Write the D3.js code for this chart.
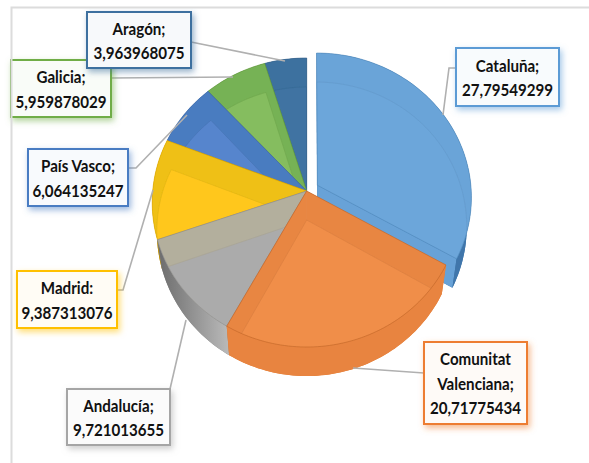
<!DOCTYPE html>
<html><head><meta charset="utf-8">
<script src="https://cdn.jsdelivr.net/npm/d3@7/dist/d3.min.js"></script>
<style>html,body{margin:0;padding:0;background:#fff}svg{display:block}</style>
</head><body><svg id="c" width="589" height="463"></svg>
<script>
const regions = ["Cataluña","Comunitat Valenciana","Andalucía","Madrid","País Vasco","Galicia","Aragón"];
const values = [27.79549299,20.71775434,9.721013655,9.387313076,6.064135247,5.959878029,3.963968075];
const valueLabels = ["27,79549299","20,71775434","9,721013655","9,387313076","6,064135247","5,959878029","3,963968075"];
const labelLines = [["Cataluña;"],["Comunitat","Valenciana;"],["Andalucía;"],["Madrid:"],["País Vasco;"],["Galicia;"],["Aragón;"]];
const edgeColors = ["#5b9bd5","#ed7d31","#a5a5a5","#ffc000","#4a7cc2","#70ad47","#3d6f9f"];
const bandColors = ["#6aa4d8","#e88744","#b3af9d","#efc013","#4a7cc0","#76b254","#3c719f"];
const innerColors = ["#6ca6da","#f08e48","#ababab","#ffc71f","#5785cd","#85bd5f","#3f73a2"];
const wallColors = ["#3f76ab","#e37f3a","#8a8a8a","#b98f10","#3a63a0","#5f983c","#30597f"];
const explode = [0.08,0,0,0,0,0,0];
const drawOrder = [6,5,4,3,2,0,1];

// layout (boxes and leader lines)
const boxes = [[456,48,103,58],[424,342,103,82],[67,389,103,56],[17,271,100,57],[28,149,100,57],[11,60,100,57],[87,12,104,56]];
const leaders = [
 [[456,68],[449,68],[443,115]],
 [[424,373],[353,368]],
 [[170,389],[186,320]],
 [[117,290],[123,290],[153,190]],
 [[128,168],[136,168],[187,115]],
 [[111,78],[233,77]],
 [[191,42],[285,61]]];
const boxOrder = [5,6,4,3,2,0,1];

const cx=306.7, cy=191, R=154, S=143.6, K=0.0796, DEPTH=29, BOTTOM_SCALE=0.97;
const svg=d3.select("#c");
const defs=svg.append("defs");

const project=(a,r,e,mid)=>{
  const x=r*Math.sin(a)+e*Math.sin(mid), y=r*Math.cos(a)+e*Math.cos(mid), d=1+K*y;
  return [cx+R*x/d, cy-S*y/d];
};
const pie=d3.pie().sort(null).startAngle(0).endAngle(2*Math.PI)(values);
const line=d3.line();

function rim(s,i){
  const n=Math.max(6,Math.ceil((s.endAngle-s.startAngle)*40));
  const mid=(s.startAngle+s.endAngle)/2;
  return d3.range(n+1).map(k=>project(s.startAngle+(s.endAngle-s.startAngle)*k/n,1,explode[i],mid));
}
function apex(s,i){return project(0,0,explode[i],(s.startAngle+s.endAngle)/2);}

const grad=defs.append("linearGradient").attr("id","gw").attr("gradientUnits","userSpaceOnUse")
  .attr("x1",158).attr("x2",232).attr("y1",0).attr("y2",0);
grad.append("stop").attr("offset",0).attr("stop-color","#6c6c6c");
grad.append("stop").attr("offset",1).attr("stop-color","#bdbdbd");

const sh=defs.append("filter").attr("id","soft").attr("x","-5%").attr("y","-5%").attr("width","110%").attr("height","110%");
sh.append("feGaussianBlur").attr("stdDeviation",0.35);

const pieG=svg.append("g").attr("filter","url(#soft)");

drawOrder.forEach(i=>{
  const s=pie[i], pts=rim(s,i), a=apex(s,i);
  const down=p=>[a[0]+(p[0]-a[0])*BOTTOM_SCALE, p[1]+DEPTH];
  const top=[a,...pts];
  const bottom=top.map(down);
  const g=pieG.append("g");
  g.append("path").attr("d",line(bottom)+"Z").attr("fill",wallColors[i]);
  [[a,pts[0]],[a,pts[pts.length-1]]].forEach(e=>{
    g.append("path").attr("d",line([e[0],e[1],down(e[1]),down(e[0])])+"Z")
     .attr("fill",i===0?"#68a2d7":wallColors[i]);
  });
  g.append("path").attr("d",line([...pts,...pts.map(down).reverse()])+"Z")
   .attr("fill",i===2?"url(#gw)":(i===0?"#3f76ab":(i===1?"#e8843f":wallColors[i])));
  g.append("path").attr("d",line(top)+"Z").attr("fill",bandColors[i]).attr("fill-opacity",i===1?0.94:1);
  const id="clip"+i;
  defs.append("clipPath").attr("id",id).append("path").attr("d",line(top)+"Z");
  g.append("path").attr("d",line(bottom)+"Z").attr("clip-path",`url(#${id})`)
    .attr("fill",innerColors[i]).attr("stroke",d3.color(bandColors[i]).darker(0.2)).attr("stroke-width",0.6);
  g.append("path").attr("d",line(top)+"Z").attr("fill","none")
    .attr("stroke",d3.color(edgeColors[i]).darker(i===1?0.6:0.35)).attr("stroke-width",0.8).attr("stroke-opacity",0.75);
});

svg.append("g").selectAll("path").data(leaders).join("path")
  .attr("d",d=>line(d)).attr("fill","none").attr("stroke","#b0b0b0").attr("stroke-width",1.6);

boxOrder.forEach(i=>{
  const b=boxes[i], col=edgeColors[i];
  const f="sh"+i;
  const fl=defs.append("filter").attr("id",f).attr("x","-20%").attr("y","-20%").attr("width","150%").attr("height","150%");
  fl.append("feDropShadow").attr("dx",2).attr("dy",3).attr("stdDeviation",3)
    .attr("flood-color",col).attr("flood-opacity",0.55);
  const g=svg.append("g");
  g.append("rect").attr("x",b[0]).attr("y",b[1]).attr("width",b[2]).attr("height",b[3])
   .attr("fill",d3.interpolateRgb(col,"#fff")(0.96)).attr("stroke",col).attr("stroke-width",2).attr("filter",`url(#${f})`);
  const lines=[...labelLines[i],valueLabels[i]];
  const lh=24.5, startY=b[1]+b[3]/2-(lines.length-1)*lh/2;
  lines.forEach((t,k)=>{
    g.append("text").text(t)
     .attr("transform",`translate(${b[0]+b[2]/2},${startY+k*lh}) scale(0.89,1)`)
     .attr("text-anchor","middle").attr("dominant-baseline","central")
     .attr("font-family","Lato, 'Open Sans', sans-serif").attr("font-weight",700)
     .attr("font-size",17).attr("fill","#111");
  });
});

// frame
svg.append("path").attr("d","M11.5,463V7.5H589").attr("fill","none").attr("stroke","#dcdcdc").attr("stroke-width",2);
</script></body></html>
